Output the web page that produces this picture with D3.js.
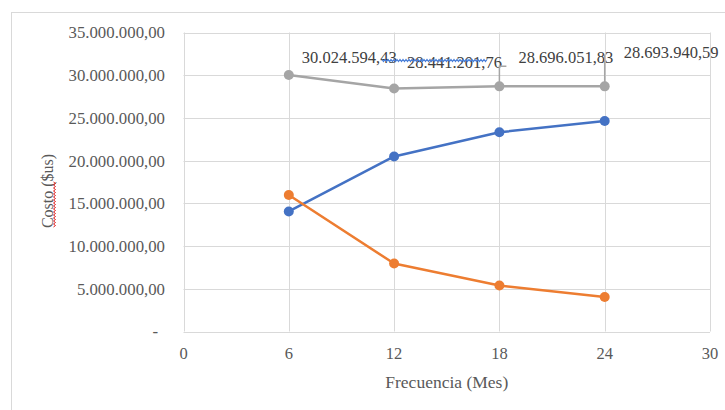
<!DOCTYPE html>
<html>
<head>
<meta charset="utf-8">
<script src="https://cdn.jsdelivr.net/npm/d3@7"></script>
<style>
  html, body { margin: 0; padding: 0; background: #ffffff; }
  svg { display: block; }
  text { font-family: "Liberation Serif", "Times New Roman", serif; }
</style>
</head>
<body>
<svg id="chart" width="725" height="410"></svg>
<script>
// ---- data ----
const months = [6, 12, 18, 24];
const costBlue = [14050000, 20490000, 23320000, 24650000];
const costOrange = [15974594, 7951202, 5376052, 4043941];
const costTotal = [30024594.43, 28441201.76, 28696051.83, 28693940.59];
const xTicks = [0, 6, 12, 18, 24, 30];
const yTicks = [0, 5000000, 10000000, 15000000, 20000000, 25000000, 30000000, 35000000];
const xTitle = "Frecuencia (Mes)";
const yTitle = "Costo ($us)";

// ---- layout ----
const svg = d3.select("#chart");
const plot = { left: 183.5, right: 710, top: 32.5, bottom: 331.5 };
const colors = { blue: "#4472C4", orange: "#ED7D31", gray: "#A5A5A5" };

const x = d3.scaleLinear().domain([0, 30]).range([plot.left, plot.right]);
const y = d3.scaleLinear().domain([0, 35000000]).range([plot.bottom, plot.top]);

const locale = d3.formatLocale({ decimal: ",", thousands: ".", grouping: [3], currency: ["", ""] });
const fmt = locale.format(",.2f");

// outer chart frame
svg.append("rect")
  .attr("x", 11.5).attr("y", 12.5).attr("width", 730).attr("height", 420)
  .attr("fill", "none").attr("stroke", "#d9d9d9").attr("stroke-width", 1);

// gridlines
const grid = svg.append("g");
grid.selectAll("line.h").data(yTicks).join("line")
  .attr("x1", plot.left).attr("x2", plot.right)
  .attr("y1", d => Math.round(y(d)) + 0.5).attr("y2", d => Math.round(y(d)) + 0.5)
  .attr("stroke", "#d9d9d9").attr("stroke-width", 1);
grid.selectAll("line.v").data(xTicks).join("line")
  .attr("y1", plot.top).attr("y2", plot.bottom)
  .attr("x1", d => Math.round(x(d)) + 0.5).attr("x2", d => Math.round(x(d)) + 0.5)
  .attr("stroke", "#d9d9d9").attr("stroke-width", 1);

// y axis labels
svg.append("g").selectAll("text").data(yTicks).join("text")
  .attr("x", d => d === 0 ? 158 : 165)
  .attr("y", d => y(d))
  .attr("dy", "0.35em")
  .attr("text-anchor", "end")
  .attr("font-size", 16.8)
  .attr("fill", "#595959")
  .text(d => d === 0 ? "-" : fmt(d));

// x axis labels
svg.append("g").selectAll("text").data(xTicks).join("text")
  .attr("x", d => x(d))
  .attr("y", 353)
  .attr("dy", "0.35em")
  .attr("text-anchor", "middle")
  .attr("font-size", 16.5)
  .attr("fill", "#595959")
  .text(d => d);

// axis titles
svg.append("text")
  .attr("x", (plot.left + plot.right) / 2).attr("y", 382).attr("dy", "0.35em")
  .attr("text-anchor", "middle").attr("font-size", 17.5).attr("fill", "#595959")
  .text(xTitle);
svg.append("text")
  .attr("transform", "translate(47,191) rotate(-90)")
  .attr("dy", "0.35em")
  .attr("text-anchor", "middle").attr("font-size", 16).attr("fill", "#595959")
  .text(yTitle);

// spellcheck squiggle helper
function squiggle(x0, y0, len, vertical) {
  const pts = [];
  for (let i = 0; i <= len; i += 1.5) {
    const off = (Math.round(i / 1.5) % 2 === 0) ? -1 : 1;
    pts.push(vertical ? [x0 + off, y0 - i] : [x0 + i, y0 + off]);
  }
  return d3.line()(pts);
}
svg.append("path").attr("d", squiggle(54.5, 227, 45, true))
  .attr("fill", "none").attr("stroke", "#e02020").attr("stroke-width", 1);

// series lines
const series = [
  { values: costBlue, color: colors.blue },
  { values: costOrange, color: colors.orange },
  { values: costTotal, color: colors.gray }
];
const line = d3.line().x((d, i) => x(months[i])).y(d => y(d));
series.forEach(s => {
  svg.append("path").datum(s.values)
    .attr("d", line).attr("fill", "none")
    .attr("stroke", s.color).attr("stroke-width", 2.5).attr("stroke-linejoin", "round");
  svg.append("g").selectAll("circle").data(s.values).join("circle")
    .attr("cx", (d, i) => x(months[i])).attr("cy", d => y(d))
    .attr("r", 5).attr("fill", s.color);
});

// data labels for total series (dragged positions, as in the original)
const labelOffsets = [[13, -18], [13, -26], [19, -29], [19, -34]];
const leaders = [null, null, [[0, 0], [0, -20], [7, -20]], [[0, 0], [0, -32]]];
costTotal.forEach((v, i) => {
  const px = x(months[i]), py = y(v);
  if (leaders[i]) {
    svg.append("path")
      .attr("d", d3.line()(leaders[i].map(p => [px + p[0], py + p[1]])))
      .attr("fill", "none").attr("stroke", colors.gray).attr("stroke-width", 1.5);
  }
  svg.append("text")
    .attr("x", px + labelOffsets[i][0]).attr("y", py + labelOffsets[i][1])
    .attr("dy", "0.35em").attr("font-size", 16.5).attr("fill", "#404040")
    .text(fmt(v));
});
svg.append("path").attr("d", squiggle(382, 60.5, 105, false))
  .attr("fill", "none").attr("stroke", "#4a7fd8").attr("stroke-width", 1.2);
</script>
</body>
</html>
